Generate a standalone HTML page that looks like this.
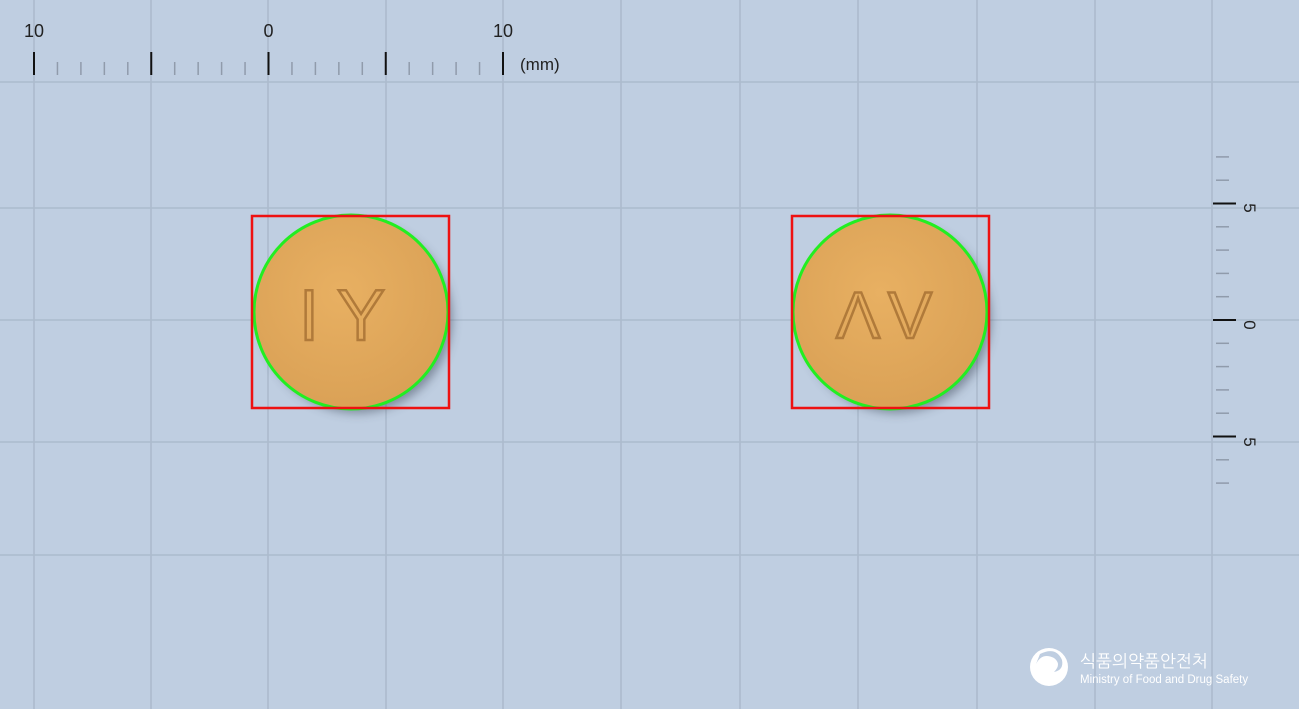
<!DOCTYPE html>
<html><head><meta charset="utf-8"><style>
body{margin:0;width:1299px;height:709px;overflow:hidden;background:#bfcee1;font-family:"Liberation Sans","NanumGothic",sans-serif}
svg{display:block}
</style></head><body>
<svg width="1299" height="709">
<defs>
<radialGradient id="pg" cx="45%" cy="40%" r="65%"><stop offset="0" stop-color="#e8b062"/><stop offset="1" stop-color="#d9a055"/></radialGradient>
<filter id="sh" x="-20%" y="-20%" width="150%" height="150%"><feGaussianBlur stdDeviation="5"/></filter>
</defs>
<g id="grid" stroke="#acbbcd" stroke-width="1.6"></g>
<g id="topruler"></g>
<g id="sideruler"></g>
<g>
<circle cx="357" cy="318" r="95" fill="#3a4555" opacity="0.5" filter="url(#sh)"/>
<circle cx="351" cy="312" r="97" fill="url(#pg)" stroke="#22ee22" stroke-width="3"/>
<text x="351" y="340" text-anchor="middle" font-size="72" fill="none" stroke="#b07a3a" stroke-width="2.5" font-family="Liberation Sans" letter-spacing="18">IY</text>
<rect x="252" y="216" width="197" height="192" fill="none" stroke="#ee1111" stroke-width="2.5"/>
</g>
<g>
<circle cx="896" cy="318" r="95" fill="#3a4555" opacity="0.5" filter="url(#sh)"/>
<circle cx="890" cy="312" r="97" fill="url(#pg)" stroke="#22ee22" stroke-width="3"/>
<text x="888" y="338" text-anchor="middle" font-size="66" fill="none" stroke="#b07a3a" stroke-width="2.5" font-family="Liberation Sans" letter-spacing="8">ΛV</text>
<rect x="792" y="216" width="197" height="192" fill="none" stroke="#ee1111" stroke-width="2.5"/>
</g>
<g>
<circle cx="1049" cy="667" r="19" fill="#fff"/>
<path d="M1036 664 q6 -12 18 -6 q8 6 0 14 q10 -2 8 -12 q-6 -14 -22 -6z" fill="#bfcee1"/>
<text x="1080" y="667" font-size="17" fill="#fff" font-family="'NanumGothic','Noto Sans CJK KR',sans-serif">식품의약품안전처</text>
<text x="1080" y="683" font-size="11.5" fill="#fff">Ministry of Food and Drug Safety</text>
</g>
</svg>
<script>
const NS="http://www.w3.org/2000/svg";
function mk(p,t,a){const e=document.createElementNS(NS,t);for(const k in a)e.setAttribute(k,a[k]);p.appendChild(e);return e;}
const g=document.getElementById('grid');
const vx=[34,151,268,386,503,621,740,858,977,1095,1212];
const hy=[82,208,320,442,555];
vx.forEach(x=>{const l=mk(g,'line',{x1:x,y1:0,x2:x,y2:709});});
hy.forEach(y=>{const l=mk(g,'line',{x1:0,y1:y,x2:1299,y2:y});});
const tr=document.getElementById('topruler');
const topLabels=["10","0","10"];
for(let i=0;i<=20;i++){const x=34+i*23.45;const maj=i%5==0;
const l=mk(tr,'line',{x1:x,x2:x,y1:maj?52:62,y2:75,stroke:maj?'#111':'#909bab','stroke-width':maj?2:1.5});
}
topLabels.forEach((s,i)=>{const t=mk(tr,'text',{x:34+i*234.5,y:37,'text-anchor':'middle','font-size':18,fill:'#222'});t.textContent=s;});
const mm=mk(tr,'text',{x:520,y:70,'font-size':17,fill:'#222'});mm.textContent='(mm)';

const sr=document.getElementById('sideruler');
for(let i=-7;i<=7;i++){const y=320+i*23.3;const maj=i%5==0;
const l=mk(sr,'line',{y1:y,y2:y,x1:maj?1213:1216,x2:maj?1236:1229,stroke:maj?'#111':'#909bab','stroke-width':maj?2:1.5});
}
const sideLabels=["5","0","5"];
sideLabels.forEach((s,i)=>{const y=208+i*117;const t=mk(sr,'text',{x:1250,y:y,'text-anchor':'middle','font-size':17,fill:'#222',transform:`rotate(90 1250 ${y}) translate(0 6)`});t.textContent=s;});
</script>
</body></html>
